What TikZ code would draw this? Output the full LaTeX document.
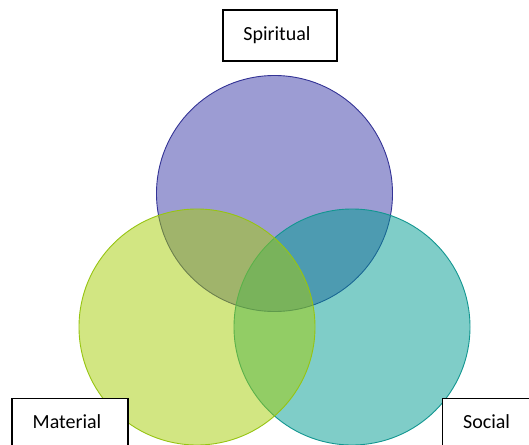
\documentclass[tikz,border=0pt]{standalone}
\usepackage{fontspec}
\setmainfont{Carlito}
\begin{document}
\begin{tikzpicture}[x=1pt,y=-1pt,
  ring/.style={circle, inner sep=0pt, minimum size=236pt, line width=0.9pt, fill opacity=0.5},
  labelbox/.style={draw=black, line width=1.2pt, fill=white, inner sep=0pt},
  tagtext/.style={font=\fontsize{20}{24}\selectfont, inner sep=0pt, anchor=center},
]
\definecolor{spiritfill}{RGB}{58,58,168}
\definecolor{spiritline}{RGB}{52,52,150}
\definecolor{socialfill}{RGB}{0,155,145}
\definecolor{socialline}{RGB}{18,150,144}
\definecolor{matfill}{RGB}{165,205,5}
\definecolor{matline}{RGB}{150,196,18}

\useasboundingbox (0,0) rectangle (529,444);

% the three overlapping circles
\node[ring, fill=spiritfill, draw=spiritline] (spiritual) at (274.5,193.5) {};
\node[ring, fill=socialfill, draw=socialline] (social) at (352,327) {};
\node[ring, fill=matfill, draw=matline] (material) at (197,327) {};

% caption boxes (the lower two run off the page edge)
\node[labelbox, minimum width=114pt, minimum height=51pt,
  label={[tagtext, xshift=-3pt]center:Spiritual}] (spiritualtag) at (280,35.5) {};
\node[labelbox, anchor=north, minimum width=116pt, minimum height=70pt,
  label={[tagtext, xshift=-3pt, yshift=-24pt]north:Material}] (materialtag) at (70,398) {};
\node[labelbox, anchor=north west, minimum width=120pt, minimum height=70pt,
  label={[tagtext, xshift=-16pt, yshift=-24pt]north:Social}] (socialtag) at (442,398) {};
\end{tikzpicture}
\end{document}
